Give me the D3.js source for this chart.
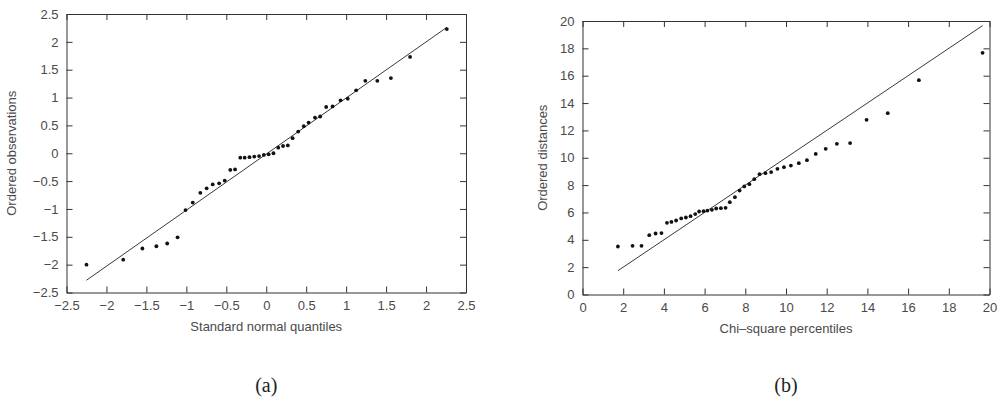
<!DOCTYPE html>
<html>
<head>
<meta charset="utf-8">
<script src="https://cdn.jsdelivr.net/npm/d3@7"></script>
<style>
  html, body { margin: 0; padding: 0; background: #fff; }
  svg { display: block; }
  .tick text { font-family: "Liberation Sans", Arial, sans-serif; font-size: 13px; fill: #4a4a4a; }
  .title { font-family: "Liberation Sans", Arial, sans-serif; font-size: 13px; fill: #4a4a4a; }
  .cap { font-family: "Liberation Serif", "DejaVu Serif", serif; font-size: 20px; fill: #222; }
</style>
</head>
<body>
<svg id="chart" width="1002" height="411"></svg>
<script>
// ---- Panel (a): normal Q-Q plot ----
const normalQuantiles = [-2.25, -1.79, -1.55, -1.375, -1.24, -1.11, -1.01, -0.92, -0.825, -0.746,
  -0.67, -0.59, -0.52, -0.45, -0.39, -0.325, -0.27, -0.21, -0.15, -0.09,
  -0.03, 0.03, 0.09, 0.15, 0.21, 0.27, 0.33, 0.40, 0.47, 0.53,
  0.61, 0.675, 0.75, 0.83, 0.93, 1.02, 1.125, 1.24, 1.39, 1.56,
  1.80, 2.26];
const orderedObservations = [-2.00, -1.91, -1.71, -1.67, -1.62, -1.51, -1.02, -0.885, -0.71, -0.63,
  -0.56, -0.54, -0.49, -0.30, -0.29, -0.08, -0.08, -0.07, -0.06, -0.05,
  -0.03, -0.02, 0.00, 0.10, 0.13, 0.14, 0.27, 0.39, 0.485, 0.55,
  0.64, 0.66, 0.83, 0.84, 0.95, 0.98, 1.13, 1.30, 1.30, 1.35,
  1.73, 2.23];
const refLineAX = [-2.25, 2.26];
const refLineAY = [-2.28, 2.26];
const xTicksA = [-2.5, -2, -1.5, -1, -0.5, 0, 0.5, 1, 1.5, 2, 2.5];
const yTicksA = [-2.5, -2, -1.5, -1, -0.5, 0, 0.5, 1, 1.5, 2, 2.5];

// ---- Panel (b): chi-square Q-Q plot ----
const chiSquarePercentiles = [1.74, 2.46, 2.90, 3.28, 3.59, 3.88, 4.15, 4.37, 4.60, 4.85,
  5.08, 5.31, 5.54, 5.73, 5.95, 6.14, 6.36, 6.57, 6.80, 7.03,
  7.24, 7.49, 7.72, 7.95, 8.20, 8.44, 8.70, 8.99, 9.27, 9.58,
  9.90, 10.24, 10.63, 11.03, 11.46, 11.95, 12.50, 13.15, 13.96, 15.00,
  16.53, 19.66];
const orderedDistances = [3.51, 3.56, 3.56, 4.34, 4.46, 4.49, 5.24, 5.31, 5.41, 5.56,
  5.63, 5.73, 5.88, 6.07, 6.09, 6.14, 6.19, 6.29, 6.31, 6.34,
  6.75, 7.12, 7.60, 7.90, 8.07, 8.43, 8.80, 8.87, 8.95, 9.19,
  9.31, 9.43, 9.60, 9.82, 10.28, 10.65, 11.02, 11.07, 12.77, 13.26,
  15.67, 17.67];
const refLineBX = [1.74, 19.66];
const refLineBY = [1.74, 19.66];
const xTicksB = [0, 2, 4, 6, 8, 10, 12, 14, 16, 18, 20];
const yTicksB = [0, 2, 4, 6, 8, 10, 12, 14, 16, 18, 20];

const svg = d3.select("#chart");
const fmt = d3.format("");

function panel(cfg) {
  const x = d3.scaleLinear().domain(cfg.xDomain).range([cfg.left, cfg.right]);
  const y = d3.scaleLinear().domain(cfg.yDomain).range([cfg.bottom, cfg.top]);
  const g = svg.append("g");
  const styleAxis = sel => {
    sel.selectAll(".domain").attr("stroke", "#333").attr("stroke-width", 1);
    sel.selectAll(".tick line").attr("stroke", "#333").attr("stroke-width", 1);
  };
  g.append("g").attr("transform", `translate(0,${cfg.bottom})`)
    .call(d3.axisBottom(x).tickValues(cfg.xTicks).tickFormat(fmt).tickSizeInner(-6).tickSizeOuter(0).tickPadding(8))
    .call(styleAxis);
  g.append("g").attr("transform", `translate(0,${cfg.top})`)
    .call(d3.axisTop(x).tickValues(cfg.xTicks).tickFormat("").tickSizeInner(-6).tickSizeOuter(0))
    .call(styleAxis);
  g.append("g").attr("transform", `translate(${cfg.left},0)`)
    .call(d3.axisLeft(y).tickValues(cfg.yTicks).tickFormat(fmt).tickSizeInner(-6).tickSizeOuter(0).tickPadding(8))
    .call(styleAxis);
  g.append("g").attr("transform", `translate(${cfg.right},0)`)
    .call(d3.axisRight(y).tickValues(cfg.yTicks).tickFormat("").tickSizeInner(-6).tickSizeOuter(0))
    .call(styleAxis);
  g.selectAll(".tick text").attr("fill", "#4a4a4a");

  const lineData = cfg.lx.map((v, i) => [v, cfg.ly[i]]);
  g.append("path").datum(lineData)
    .attr("fill", "none").attr("stroke", "#222").attr("stroke-width", 0.9)
    .attr("d", d3.line().x(d => x(d[0])).y(d => y(d[1])));

  g.selectAll("circle.pt").data(cfg.px.map((v, i) => [v, cfg.py[i]])).join("circle")
    .attr("class", "pt")
    .attr("cx", d => x(d[0])).attr("cy", d => y(d[1])).attr("r", 1.9).attr("fill", "#111");

  g.append("text").attr("class", "title")
    .attr("x", (cfg.left + cfg.right) / 2).attr("y", cfg.bottom + 38)
    .attr("text-anchor", "middle").text(cfg.xTitle);
  g.append("text").attr("class", "title")
    .attr("transform", `translate(${cfg.yTitleX},${(cfg.top + cfg.bottom) / 2}) rotate(-90)`)
    .attr("text-anchor", "middle").attr("dy", "0.35em").text(cfg.yTitle);
  g.append("text").attr("class", "cap")
    .attr("x", (cfg.left + cfg.right) / 2).attr("y", 392)
    .attr("text-anchor", "middle").text(cfg.caption);
}

panel({
  xDomain: [-2.5, 2.5], yDomain: [-2.5, 2.5],
  left: 66.5, right: 466, top: 14, bottom: 292.5,
  xTicks: xTicksA, yTicks: yTicksA,
  px: normalQuantiles, py: orderedObservations,
  lx: refLineAX, ly: refLineAY,
  xTitle: "Standard normal quantiles", yTitle: "Ordered observations",
  yTitleX: 11, caption: "(a)"
});
panel({
  xDomain: [0, 20], yDomain: [0, 20],
  left: 582.5, right: 989.5, top: 21, bottom: 294.5,
  xTicks: xTicksB, yTicks: yTicksB,
  px: chiSquarePercentiles, py: orderedDistances,
  lx: refLineBX, ly: refLineBY,
  xTitle: "Chi\u2013square percentiles", yTitle: "Ordered distances",
  yTitleX: 542.5, caption: "(b)"
});
</script>
</body>
</html>
